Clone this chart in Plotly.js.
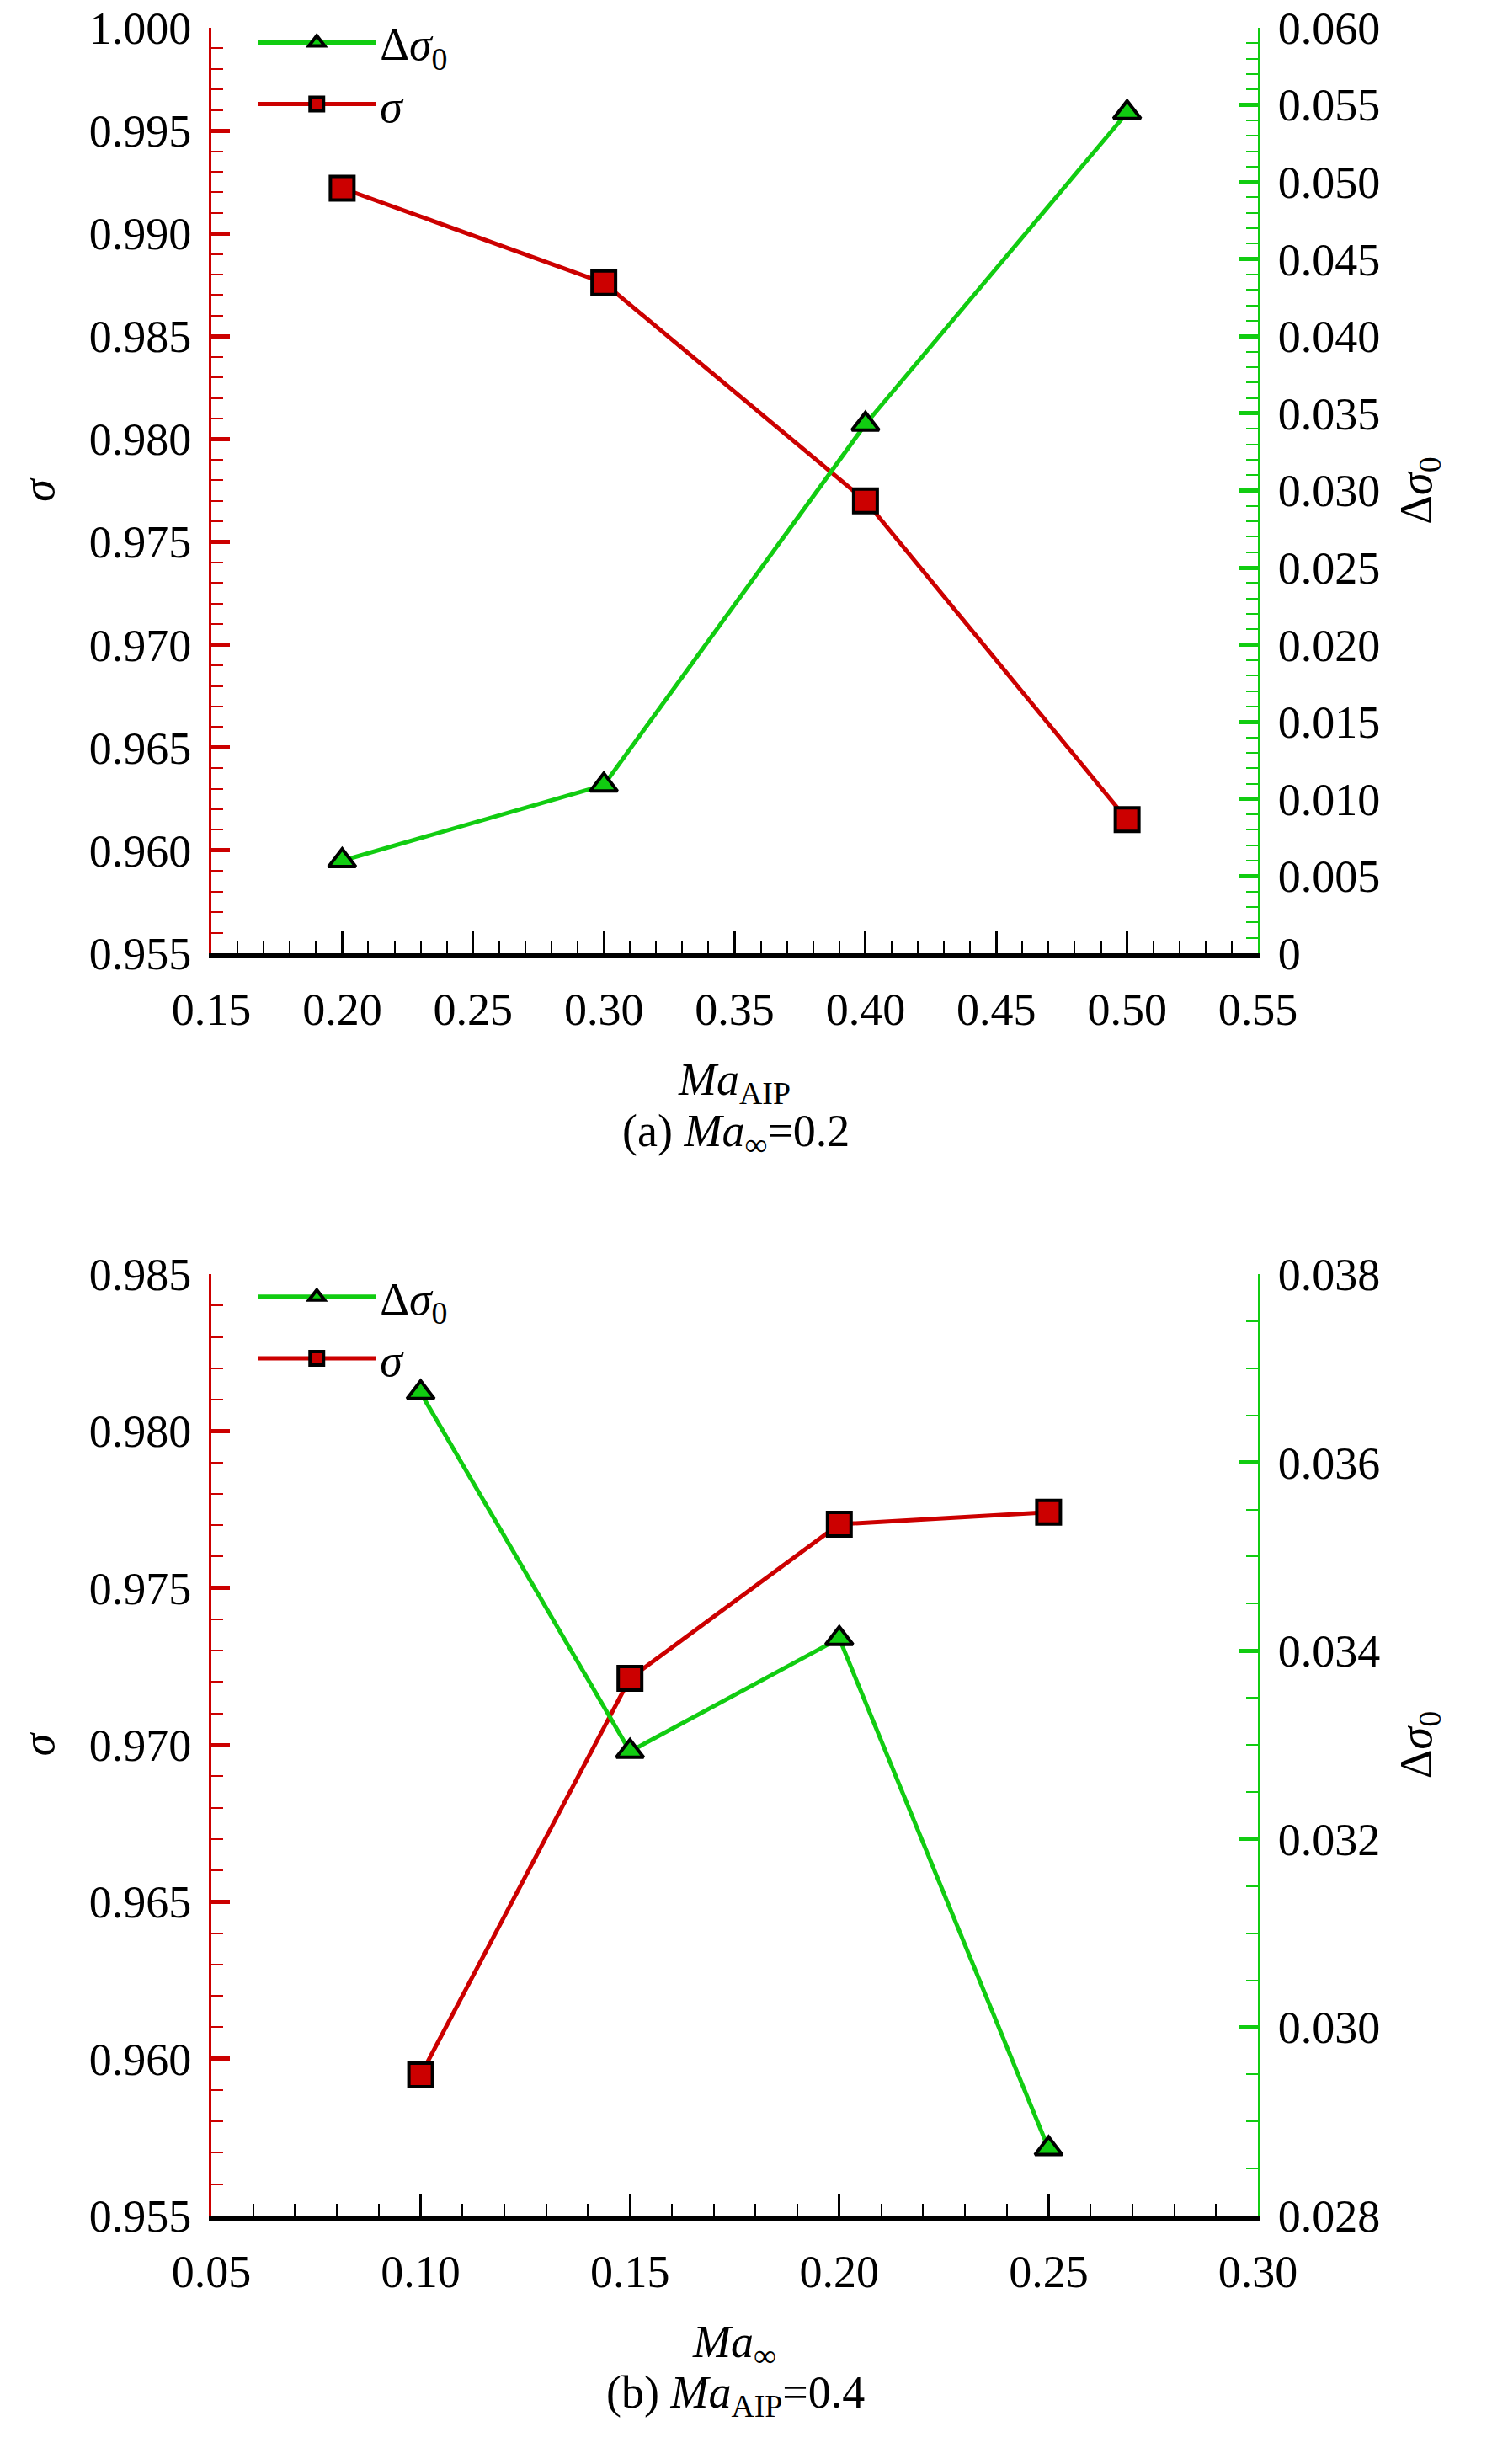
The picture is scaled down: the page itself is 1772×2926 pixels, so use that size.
<!DOCTYPE html>
<html>
<head>
<meta charset="utf-8">
<script src="https://cdn.plot.ly/plotly-3.0.1.min.js"></script>
<style>
  html, body { margin: 0; padding: 0; background: #fff; }
  #chart { width: 1772px; height: 2926px; }
</style>
</head>
<body>
<div id="chart"></div>
<script>
// (a) Ma_inf = 0.2
const maAIP = [0.2, 0.3, 0.4, 0.5];
const sigmaA = [0.9922, 0.9876, 0.9770, 0.9615];
const dSigmaA = [0.0060, 0.0109, 0.0343, 0.0545];

// (b) Ma_AIP = 0.4
const maInf = [0.10, 0.15, 0.20, 0.25];
const sigmaB = [0.95948, 0.97212, 0.97703, 0.97741];
const dSigmaB = [0.03674, 0.03293, 0.03413, 0.02871];

const rightTicksA = [0, 0.005, 0.01, 0.015, 0.02, 0.025, 0.03, 0.035, 0.04, 0.045, 0.05, 0.055, 0.06];
const rightLabelsA = ["0", "0.005", "0.010", "0.015", "0.020", "0.025", "0.030", "0.035", "0.040", "0.045", "0.050", "0.055", "0.060"];

const RED = "#cc0000";
const GREEN = "#11cc11";
const FONT = { family: "Liberation Serif", size: 54, color: "#000" };

const sqMarker = { symbol: "square", size: 28, color: RED, line: { color: "#000", width: 4 } };
const triMarker = { symbol: "triangle-up", size: 28, color: GREEN, line: { color: "#000", width: 4 } };

const traces = [
  { x: maAIP, y: dSigmaA, xaxis: "x", yaxis: "y2", name: "Δ<i>σ</i><sub>0</sub>", mode: "lines+markers",
    line: { color: GREEN, width: 5 }, marker: triMarker, legend: "legend" },
  { x: maAIP, y: sigmaA, xaxis: "x", yaxis: "y", name: "<i>σ</i>", mode: "lines+markers",
    line: { color: RED, width: 5 }, marker: sqMarker, legend: "legend" },
  { x: maInf, y: dSigmaB, xaxis: "x2", yaxis: "y4", name: "Δ<i>σ</i><sub>0</sub>", mode: "lines+markers",
    line: { color: GREEN, width: 5 }, marker: triMarker, legend: "legend2" },
  { x: maInf, y: sigmaB, xaxis: "x2", yaxis: "y3", name: "<i>σ</i>", mode: "lines+markers",
    line: { color: RED, width: 5 }, marker: sqMarker, legend: "legend2" }
];

const xDom = [251 / 1772, 1494 / 1772];
const domA = [1 - 1132 / 2926, 1 - 33 / 2926];
const domB = [1 - 2631 / 2926, 1 - 1513 / 2926];

function xAxis(range, dtick, minor, anchor, title) {
  return {
    domain: xDom, range: range, anchor: anchor, dtick: dtick, tick0: 0,
    tickformat: ".2f", showgrid: false, zeroline: false,
    showline: true, linecolor: "#000", linewidth: 6,
    ticks: "inside", ticklen: 26, tickwidth: 3, tickcolor: "#000",
    minor: { dtick: minor, ticks: "inside", ticklen: 14, tickwidth: 2, tickcolor: "#000" },
    tickfont: FONT, ticklabelstandoff: 14,
    title: { text: title, font: FONT, standoff: 36 }
  };
}

function yLeft(range, anchor, domain) {
  return {
    domain: domain, range: range, anchor: anchor, dtick: 0.005, tick0: 0,
    tickformat: ".3f", showgrid: false, zeroline: false,
    showline: true, linecolor: RED, linewidth: 3,
    ticks: "inside", ticklen: 22, tickwidth: 5, tickcolor: RED,
    minor: { dtick: 0.001, ticks: "inside", ticklen: 14, tickwidth: 2, tickcolor: RED },
    tickfont: FONT, ticklabelstandoff: 10,
    title: { text: "<i>σ</i>", font: FONT, standoff: 24 }
  };
}

function yRight(range, overlay, anchor, domain, extra) {
  return Object.assign({
    domain: domain, range: range, anchor: anchor, overlaying: overlay, side: "right",
    showgrid: false, zeroline: false,
    showline: true, linecolor: GREEN, linewidth: 3,
    ticks: "inside", ticklen: 22, tickwidth: 5, tickcolor: GREEN,
    tickfont: FONT, ticklabelstandoff: 10,
    title: { text: "Δ<i>σ</i><sub>0</sub>", font: FONT, standoff: 24 }
  }, extra);
}

const legendBase = { xanchor: "left", yanchor: "top", bgcolor: "rgba(0,0,0,0)",
  font: FONT, itemwidth: 140, itemsizing: "trace", tracegroupgap: 0 };

const layout = {
  width: 1772, height: 2926,
  margin: { l: 0, r: 0, t: 0, b: 0 },
  paper_bgcolor: "#fff", plot_bgcolor: "#fff",
  font: FONT,
  xaxis: xAxis([0.15, 0.55], 0.05, 0.01, "y", "<i>Ma</i><sub>AIP</sub>"),
  yaxis: yLeft([0.955, 1.0], "x", domA),
  yaxis2: yRight([0, 0.06], "y", "x", domA, {
    tickvals: rightTicksA, ticktext: rightLabelsA,
    minor: { dtick: 0.001, ticks: "inside", ticklen: 14, tickwidth: 2, tickcolor: GREEN }
  }),
  xaxis2: xAxis([0.05, 0.30], 0.05, 0.01, "y3", "<i>Ma</i><sub>∞</sub>"),
  yaxis3: yLeft([0.955, 0.985], "x2", domB),
  yaxis4: yRight([0.028, 0.038], "y3", "x2", domB, {
    dtick: 0.002, tick0: 0, tickformat: ".3f",
    minor: { dtick: 0.0005, ticks: "inside", ticklen: 14, tickwidth: 2, tickcolor: GREEN }
  }),
  legend: Object.assign({ x: 0.17, y: 0.997 }, legendBase),
  legend2: Object.assign({ x: 0.17, y: 0.488 }, legendBase),
  annotations: [
    { text: "(a) <i>Ma</i><sub>∞</sub>=0.2", xref: "paper", yref: "paper", x: 0.493, y: 1 - 1346 / 2926,
      showarrow: false, font: FONT },
    { text: "(b) <i>Ma</i><sub>AIP</sub>=0.4", xref: "paper", yref: "paper", x: 0.493, y: 1 - 2880 / 2926,
      showarrow: false, font: FONT }
  ]
};

Plotly.newPlot("chart", traces, layout, { displayModeBar: false, staticPlot: true });
</script>
</body>
</html>
